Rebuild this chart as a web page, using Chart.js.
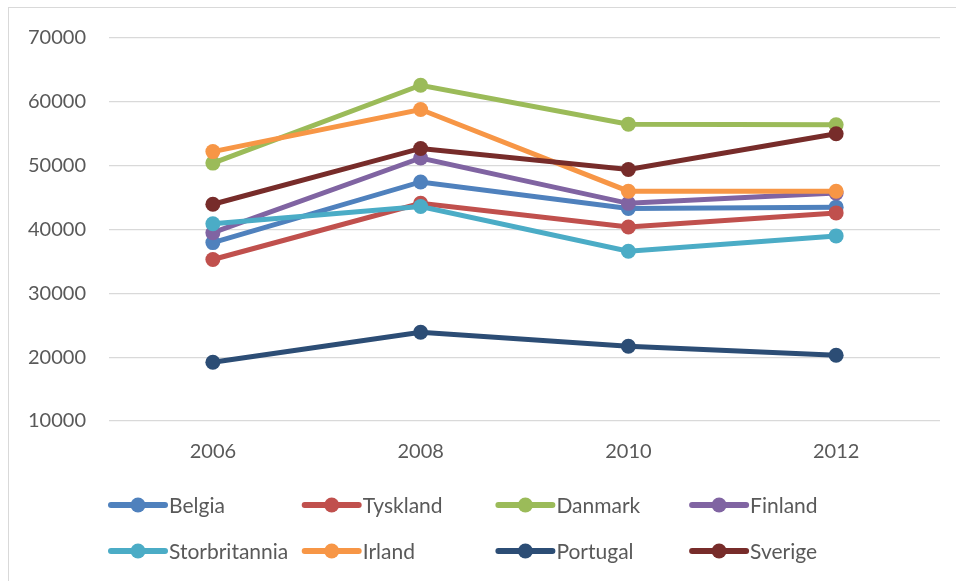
<!DOCTYPE html>
<html>
<head>
<meta charset="utf-8">
<script src="https://cdn.jsdelivr.net/npm/chart.js@4.4.0/dist/chart.umd.min.js"></script>
<style>
    html, body { margin: 0; padding: 0; background: #fff; }
    #wrap { position: relative; width: 956px; height: 581px; }
</style>
</head>
<body>
<div id="wrap"><canvas id="grafico" width="956" height="581"></canvas></div>
<script>
// Dados
const anos = ['2006', '2008', '2010', '2012'];
const belgia = [37950, 47450, 43300, 43500];
const tyskland = [35300, 44100, 40400, 42600];
const danmark = [50400, 62600, 56500, 56400];
const finland = [39500, 51200, 44100, 45700];
const storbritannia = [40900, 43600, 36600, 39000];
const irland = [52200, 58800, 46000, 46000];
const portugal = [19200, 23900, 21700, 20300];
const sverige = [43950, 52700, 49400, 55000];

const nomes = ['Belgia', 'Tyskland', 'Danmark', 'Finland', 'Storbritannia', 'Irland', 'Portugal', 'Sverige'];
const series = [belgia, tyskland, danmark, finland, storbritannia, irland, portugal, sverige];
const cores = ['#4F81BD', '#C0504D', '#9BBB59', '#8064A2', '#4BACC6', '#F79646', '#2C4D75', '#772C2A'];
const yTicks = [10000, 20000, 30000, 40000, 50000, 60000, 70000];

const corTexto = '#595959';
const fonte = 'Lato, "Liberation Sans", sans-serif';

// fundo branco e borda da área do gráfico
const fundo = {
    id: 'fundo',
    beforeDraw(chart) {
        const ctx = chart.ctx;
        ctx.save();
        ctx.fillStyle = '#fff';
        ctx.fillRect(0, 0, chart.width, chart.height);
        ctx.strokeStyle = '#d9d9d9';
        ctx.lineWidth = 1;
        ctx.strokeRect(8.5, 7.5, chart.width + 20, chart.height + 20);
        ctx.restore();
    }
};

// legenda em grade de 4 colunas, como no original
const legendaGrade = {
    id: 'legendaGrade',
    afterDraw(chart) {
        const ctx = chart.ctx;
        ctx.save();
        chart.data.datasets.forEach((ds, i) => {
            const col = i % 4;
            const lin = Math.floor(i / 4);
            const x0 = 110 + col * 193.7;
            const y = 505 + lin * 46;
            ctx.strokeStyle = ds.borderColor;
            ctx.lineWidth = 6;
            ctx.lineCap = 'round';
            ctx.beginPath();
            ctx.moveTo(x0 + 1, y);
            ctx.lineTo(x0 + 55, y);
            ctx.stroke();
            ctx.fillStyle = ds.borderColor;
            ctx.beginPath();
            ctx.arc(x0 + 28, y, 7.5, 0, Math.PI * 2);
            ctx.fill();
            ctx.fillStyle = corTexto;
            ctx.font = '21px ' + fonte;
            ctx.textBaseline = 'middle';
            ctx.textAlign = 'left';
            ctx.fillText(ds.label, x0 + 59, y + 1);
        });
        ctx.restore();
    }
};

const datasets = series.map((dados, i) => ({
    label: nomes[i],
    data: dados,
    borderColor: cores[i],
    backgroundColor: cores[i],
    pointBackgroundColor: cores[i],
    pointBorderColor: cores[i],
    borderWidth: 5,
    pointRadius: 7.5,
    pointBorderWidth: 0,
    tension: 0,
    order: series.length - i // séries posteriores ficam por cima
}));

const ctx = document.getElementById('grafico').getContext('2d');
new Chart(ctx, {
    type: 'line',
    data: { labels: anos, datasets: datasets },
    options: {
        responsive: false,
        animation: false,
        layout: { padding: { left: 0, right: 16, top: 38, bottom: 110 } },
        plugins: {
            legend: { display: false },
            tooltip: { enabled: false }
        },
        scales: {
            x: {
                offset: true,
                grid: { display: false, drawTicks: false },
                border: { display: false },
                ticks: {
                    color: corTexto,
                    font: { family: fonte, size: 20 },
                    padding: 19
                },
                afterFit(s) { s.height = 50; }
            },
            y: {
                min: 10000,
                max: 70000,
                afterBuildTicks(s) { s.ticks = yTicks.map(v => ({ value: v })); },
                grid: { color: '#d9d9d9', lineWidth: 1.3, drawTicks: false },
                border: { display: false },
                ticks: {
                    color: corTexto,
                    font: { family: fonte, size: 20 },
                    padding: 23,
                    callback: v => String(v)
                },
                afterFit(s) { s.width = 109; }
            }
        }
    },
    plugins: [fundo, legendaGrade]
});
</script>
</body>
</html>
